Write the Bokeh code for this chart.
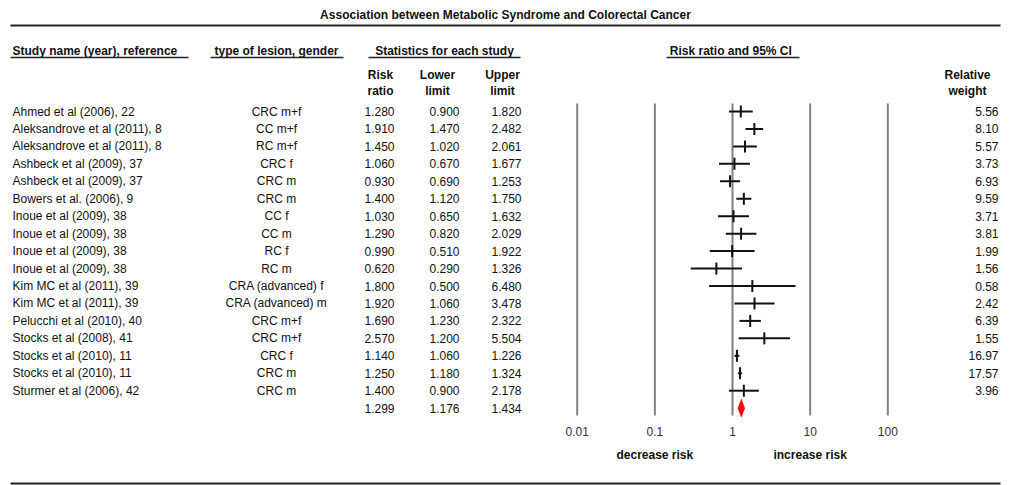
from bokeh.plotting import figure
from bokeh.models import Range1d, LogScale, ColumnDataSource
from bokeh.core.properties import value
from bokeh.embed import file_html
from bokeh.resources import INLINE

# ---------------- data ----------------
studies = [
    "Ahmed et al (2006), 22",
    "Aleksandrove et al (2011), 8",
    "Aleksandrove et al (2011), 8",
    "Ashbeck et al (2009), 37",
    "Ashbeck et al (2009), 37",
    "Bowers et al. (2006), 9",
    "Inoue et al (2009), 38",
    "Inoue et al (2009), 38",
    "Inoue et al (2009), 38",
    "Inoue et al (2009), 38",
    "Kim MC et al (2011), 39",
    "Kim MC et al (2011), 39",
    "Pelucchi et al (2010), 40",
    "Stocks et al (2008), 41",
    "Stocks et al (2010), 11",
    "Stocks et al (2010), 11",
    "Sturmer et al (2006), 42",
]
lesions = [
    "CRC m+f", "CC m+f", "RC m+f", "CRC f", "CRC m", "CRC m", "CC f", "CC m",
    "RC f", "RC m", "CRA (advanced) f", "CRA (advanced) m", "CRC m+f", "CRC m+f",
    "CRC f", "CRC m", "CRC m",
]
risk_ratio = [1.280, 1.910, 1.450, 1.060, 0.930, 1.400, 1.030, 1.290, 0.990,
              0.620, 1.800, 1.920, 1.690, 2.570, 1.140, 1.250, 1.400]
lower_limit = [0.900, 1.470, 1.020, 0.670, 0.690, 1.120, 0.650, 0.820, 0.510,
               0.290, 0.500, 1.060, 1.230, 1.200, 1.060, 1.180, 0.900]
upper_limit = [1.820, 2.482, 2.061, 1.677, 1.253, 1.750, 1.632, 2.029, 1.922,
               1.326, 6.480, 3.478, 2.322, 5.504, 1.226, 1.324, 2.178]
rel_weight = [5.56, 8.10, 5.57, 3.73, 6.93, 9.59, 3.71, 3.81, 1.99, 1.56,
              0.58, 2.42, 6.39, 1.55, 16.97, 17.57, 3.96]
summary_rr = 1.299
summary_lower = 1.176
summary_upper = 1.434
tick_values = [0.01, 0.1, 1, 10, 100]
tick_labels = ["0.01", "0.1", "1", "10", "100"]

# ---------------- layout ----------------
W, H = 1010, 485
X_ONE = 732.0      # pixel of RR = 1
DECADE = 77.65     # pixels per decade
ROW0, STEP = 111.0, 17.45
FONT = value("Liberation Sans")

n = len(studies)
row_y = [ROW0 + i * STEP for i in range(n)]
sum_y = ROW0 + n * STEP

p = figure(width=W, height=H, output_backend="svg", toolbar_location=None,
           x_range=Range1d(0, W), y_range=Range1d(H, 0), min_border=0,
           outline_line_color=None)
p.axis.visible = False
p.grid.visible = False
p.background_fill_color = "white"
p.border_fill_color = "white"
p.extra_x_ranges = {"rr": Range1d(10 ** ((0 - X_ONE) / DECADE), 10 ** ((W - X_ONE) / DECADE))}
p.extra_x_scales = {"rr": LogScale()}


def txt(x, y, s, align="left", bold=False, size="12px", color="#111111"):
    p.text(x=x, y=y, text=s, text_align=align, text_baseline="middle",
           text_font=FONT, text_font_size=size, text_color=color,
           text_font_style="bold" if bold else "normal")


# title and rules
txt([505], [14], ["Association between Metabolic Syndrome and Colorectal Cancer"], align="center", bold=True)
p.segment(x0=[10, 10], x1=[1000, 1000], y0=[25, 483], y1=[25, 483], line_color="#222222", line_width=2)

# headers
txt([12], [50], ["Study name (year), reference"], bold=True)
txt([276], [50], ["type of lesion, gender"], align="center", bold=True)
txt([444], [50], ["Statistics for each study"], align="center", bold=True)
txt([732], [50], ["Risk ratio and 95%  CI"], align="center", bold=True)
p.segment(x0=[10, 210, 368, 666], x1=[188, 343, 520, 799],
          y0=[57] * 4, y1=[57] * 4, line_color="#222222", line_width=1.5)
txt([380, 437, 502, 967], [74] * 4, ["Risk", "Lower", "Upper", "Relative"], align="center", bold=True)
txt([380, 437, 502, 967], [90] * 4, ["ratio", "limit", "limit", "weight"], align="center", bold=True)

# table columns
src = ColumnDataSource(dict(
    y=row_y, study=studies, lesion=lesions,
    rr=risk_ratio, lo=lower_limit, hi=upper_limit,
    rr_s=["%.3f" % v for v in risk_ratio],
    lo_s=["%.3f" % v for v in lower_limit],
    hi_s=["%.3f" % v for v in upper_limit],
    w_s=["%.2f" % v for v in rel_weight],
    y_top=[y - 6 for y in row_y], y_bot=[y + 6 for y in row_y],
))
common = dict(source=src, y="y", text_baseline="middle", text_font=FONT,
              text_font_size="12px", text_color="#111111")
p.text(x=12, text="study", text_align="left", **common)
p.text(x=276, text="lesion", text_align="center", **common)
p.text(x=394, text="rr_s", text_align="right", **common)
p.text(x=459, text="lo_s", text_align="right", **common)
p.text(x=521, text="hi_s", text_align="right", **common)
p.text(x=998, text="w_s", text_align="right", **common)
txt([394, 459, 521], [sum_y] * 3,
    ["%.3f" % summary_rr, "%.3f" % summary_lower, "%.3f" % summary_upper], align="right")

# forest panel
p.segment(x0=tick_values, x1=tick_values, y0=[103] * 5, y1=[415] * 5,
          x_range_name="rr", line_color="#808080", line_width=2)
p.segment(x0="lo", x1="hi", y0="y", y1="y", source=src, x_range_name="rr",
          line_color="#111111", line_width=2)
p.segment(x0="rr", x1="rr", y0="y_top", y1="y_bot", source=src, x_range_name="rr",
          line_color="#111111", line_width=2)
p.patch(x=[summary_lower, summary_rr, summary_upper, summary_rr],
        y=[sum_y, sum_y - 9, sum_y, sum_y + 9], x_range_name="rr",
        fill_color="#ff0000", line_color="#ff0000", line_width=0.5)

p.text(x=tick_values, y=[431] * 5, text=tick_labels, x_range_name="rr",
       text_align="center", text_baseline="middle", text_font=FONT,
       text_font_size="12px", text_color="#333333")
p.text(x=[0.1, 10], y=[454, 454], text=["decrease risk", "increase risk"], x_range_name="rr",
       text_align="center", text_baseline="middle", text_font=FONT,
       text_font_size="12px", text_color="#111111", text_font_style="bold")

open("out.html", "w").write(file_html(p, INLINE))
